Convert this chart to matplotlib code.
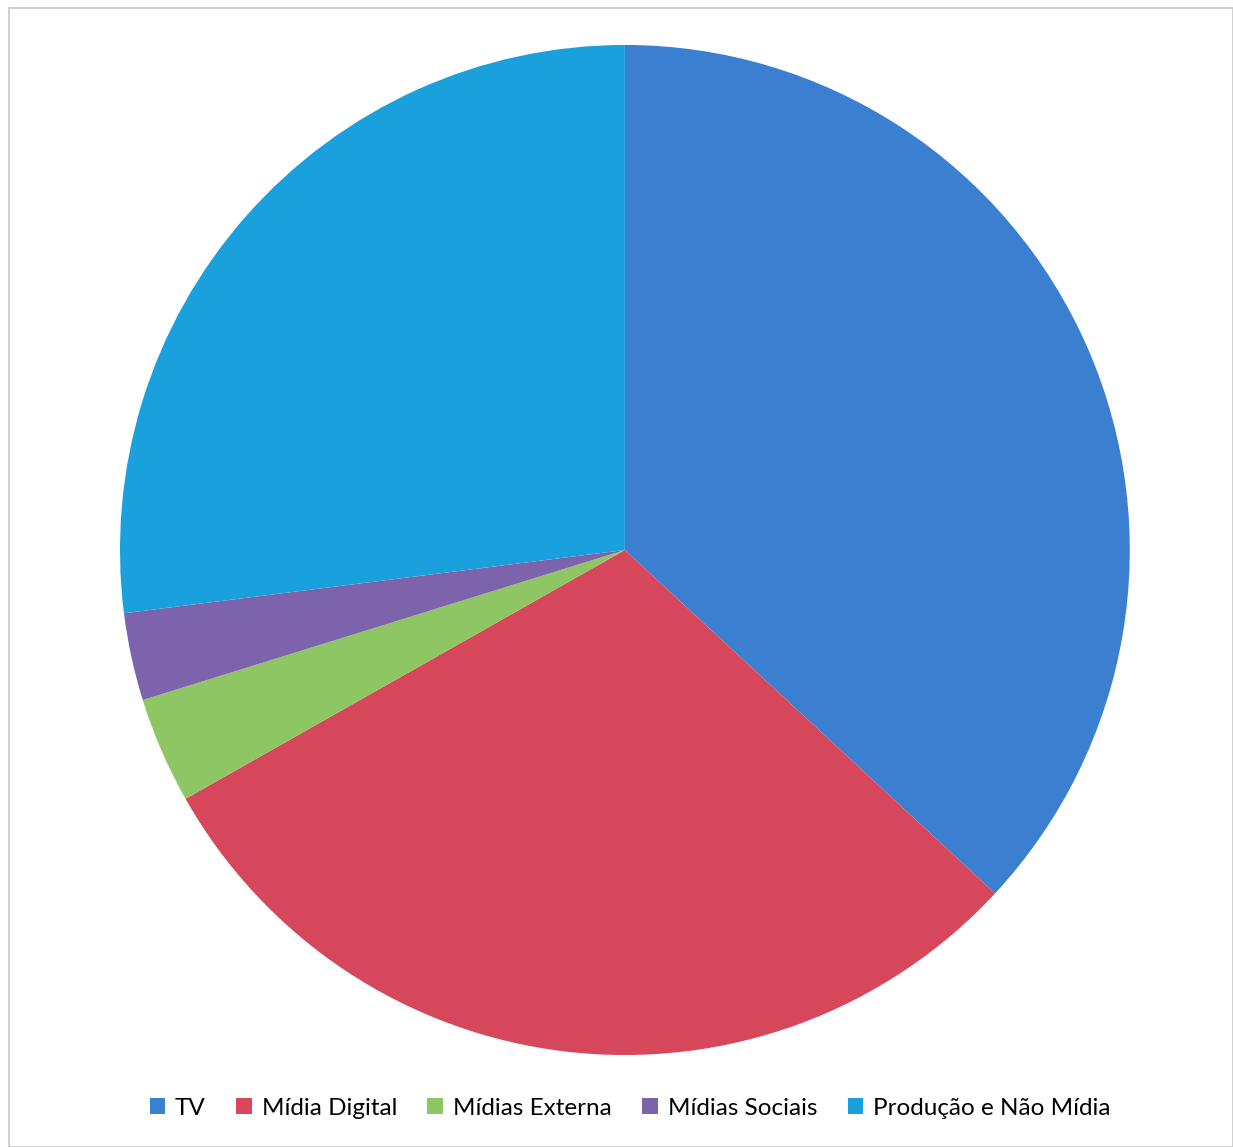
import matplotlib.pyplot as plt
from matplotlib.patches import Rectangle

categories = ["TV", "Mídia Digital", "Mídias Externa", "Mídias Sociais", "Produção e Não Mídia"]
values = [36.9, 29.9, 3.4, 2.8, 27.0]
colors = ["#3A7FD0", "#D6475B", "#8DC662", "#7D62AC", "#1AA0DD"]

plt.rcParams['font.family'] = ['Lato', 'DejaVu Sans']

fig = plt.figure(figsize=(12.33, 11.47), dpi=100)
fig.patch.set_facecolor("white")
fig.patches.append(Rectangle((0.007, 0.0), 0.993, 0.993, transform=fig.transFigure,
                             fill=False, edgecolor="#C8C8C8", linewidth=1.2))

ax = fig.add_axes([0.0973, 0.0802, 0.819, 0.8806])
wedges, _ = ax.pie(values, colors=colors, startangle=90, counterclock=False,
                   wedgeprops=dict(linewidth=0))
ax.set_xlim(-1, 1)
ax.set_ylim(-1, 1)
ax.set_aspect("auto")

fig.legend(wedges, categories, loc="center", bbox_to_anchor=(0.511, 0.034),
           ncol=5, frameon=False, fontsize=17.5, handlelength=0.65, handleheight=0.65,
           handletextpad=0.4, columnspacing=1.25)

fig.savefig("out.png", dpi=100)
